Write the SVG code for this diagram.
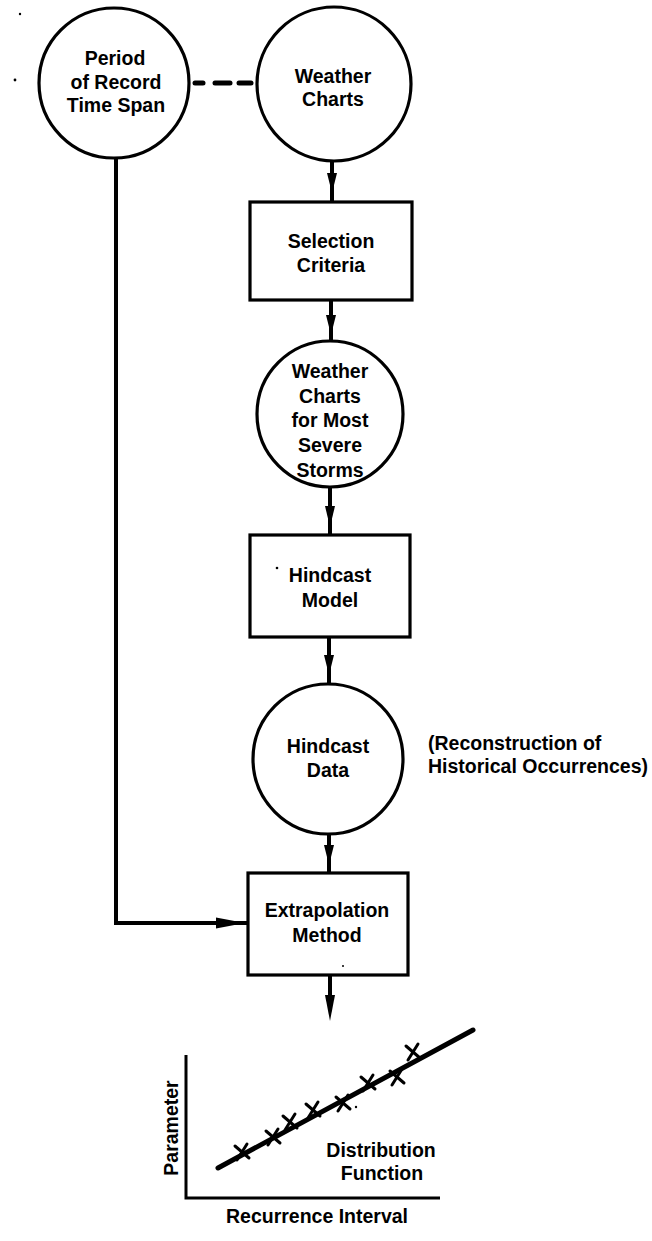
<svg xmlns="http://www.w3.org/2000/svg" width="652" height="1241" viewBox="0 0 652 1241">
<style>
.n{fill:#fff;stroke:#000;stroke-width:3.2}
.t{font-family:"Liberation Sans",Arial,sans-serif;font-weight:bold;font-size:19.5px;fill:#000;text-anchor:middle}
.tl{font-family:"Liberation Sans",Arial,sans-serif;font-weight:bold;font-size:19.5px;fill:#000}
.c{stroke:#000;stroke-width:4;fill:none}
.d{stroke:#000;stroke-width:5;fill:none;stroke-linecap:round}
.ah{fill:#000}
.x{stroke:#000;stroke-width:3;fill:none;stroke-linecap:round}
</style>
<rect width="652" height="1241" fill="#fff"/>
<g id="connectors">
  <g id="dashed-link">
    <line class="d" x1="195" y1="83" x2="203" y2="83"/>
    <line class="d" x1="215" y1="83" x2="230" y2="83"/>
    <line class="d" x1="239" y1="83" x2="251" y2="83"/>
  </g>
  <line class="c" x1="332" y1="160" x2="332" y2="202"/>
  <polygon class="ah" points="327,173 337,173 332,193"/>
  <line class="c" x1="331" y1="300" x2="331" y2="343"/>
  <polygon class="ah" points="326,315 336,315 331,335"/>
  <line class="c" x1="330" y1="485" x2="330" y2="535"/>
  <polygon class="ah" points="325,506 335,506 330,527"/>
  <line class="c" x1="329" y1="637" x2="329" y2="683"/>
  <polygon class="ah" points="324,655 334,655 329,675"/>
  <line class="c" x1="329" y1="835" x2="329" y2="873"/>
  <polygon class="ah" points="324,845 334,845 329,865"/>
  <polyline class="c" points="116,158 116,923 247,923" stroke-width="4.5"/>
  <polygon class="ah" points="216,917.5 216,928.5 245,923"/>
  <line class="c" x1="330" y1="975" x2="330" y2="1000"/>
  <polygon class="ah" points="325,995 335,995 330,1021"/>
</g>
<g id="period">
  <circle class="n" cx="114" cy="83" r="75"/>
  <text class="t" x="115" y="65">Period</text>
  <text class="t" x="116" y="89">of Record</text>
  <text class="t" x="116" y="112">Time Span</text>
</g>
<g id="weather-charts">
  <circle class="n" cx="334" cy="84" r="77"/>
  <text class="t" x="333" y="83">Weather</text>
  <text class="t" x="333" y="106">Charts</text>
</g>
<g id="selection-criteria">
  <rect class="n" x="250" y="202" width="162" height="98"/>
  <text class="t" x="331" y="248">Selection</text>
  <text class="t" x="331" y="272">Criteria</text>
</g>
<g id="severe-storms">
  <circle class="n" cx="330" cy="414" r="73"/>
  <text class="t" x="330" y="378">Weather</text>
  <text class="t" x="330" y="403">Charts</text>
  <text class="t" x="330" y="427">for Most</text>
  <text class="t" x="330" y="452">Severe</text>
  <text class="t" x="330" y="477">Storms</text>
</g>
<g id="hindcast-model">
  <rect class="n" x="250" y="535" width="160" height="102"/>
  <circle cx="277" cy="568" r="1.3" fill="#000"/>
  <text class="t" x="330" y="582">Hindcast</text>
  <text class="t" x="330" y="607">Model</text>
</g>
<g id="hindcast-data">
  <circle class="n" cx="328" cy="759" r="75"/>
  <text class="t" x="328" y="753">Hindcast</text>
  <text class="t" x="328" y="777">Data</text>
</g>
<g id="note">
  <text class="tl" x="428" y="750">(Reconstruction of</text>
  <text class="tl" x="428" y="773">Historical Occurrences)</text>
</g>
<g id="extrapolation">
  <rect class="n" x="248" y="873" width="160" height="102"/>
  <text class="t" x="327" y="917">Extrapolation</text>
  <text class="t" x="327" y="942">Method</text>
  <circle cx="343" cy="966" r="1" fill="#000"/>
</g>
<g id="distribution-chart">
  <polyline points="186,1055 186,1198 440,1198" fill="none" stroke="#000" stroke-width="3"/>
  <line x1="218" y1="1168" x2="473" y2="1030" stroke="#000" stroke-width="5" stroke-linecap="round"/>
  <g class="x">
    <path d="M235,1146 L249,1158 M247,1144 L237,1160"/>
    <path d="M266,1131 L280,1143 M278,1129 L268,1145"/>
    <path d="M283,1116 L297,1128 M295,1114 L285,1130"/>
    <path d="M306,1104 L320,1116 M318,1102 L308,1118"/>
    <path d="M336,1097 L350,1109 M348,1095 L338,1111"/>
    <path d="M361,1077 L375,1089 M373,1075 L363,1091"/>
    <path d="M390,1071 L404,1083 M402,1069 L392,1085"/>
    <path d="M406,1046 L420,1058 M418,1044 L408,1060"/>
  </g>
  <circle cx="356" cy="1107" r="1.2" fill="#000"/>
  <text class="t" transform="translate(178,1128) rotate(-90)" x="0" y="0">Parameter</text>
  <text class="t" x="381" y="1157">Distribution</text>
  <text class="t" x="382" y="1180">Function</text>
  <text class="t" x="317" y="1223">Recurrence Interval</text>
</g>
<circle cx="20" cy="14" r="1.2" fill="#000"/>
<circle cx="15" cy="80" r="1.4" fill="#000"/>
</svg>
